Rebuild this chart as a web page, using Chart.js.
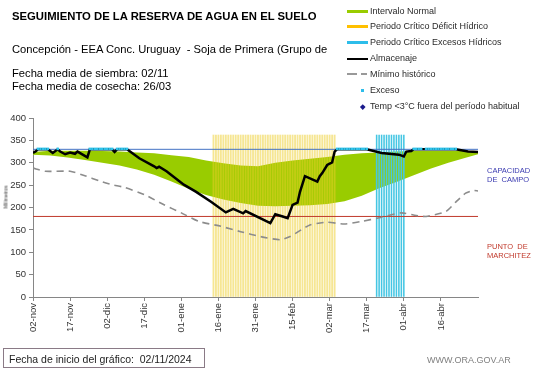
<!DOCTYPE html>
<html><head><meta charset="utf-8">
<script src="https://cdn.jsdelivr.net/npm/chart.js@4/dist/chart.umd.min.js"></script>
<style>
body{margin:0;width:541px;height:368px;overflow:hidden;background:#fff;font-family:"Liberation Sans",Arial,sans-serif;position:relative}
canvas{position:absolute;left:0;top:0}
.t{position:absolute;white-space:pre;line-height:1;color:#000}
.lg{position:absolute;left:370px;font-size:9px;color:#2a2a2a;white-space:pre;line-height:1}
.sym{position:absolute}
</style></head><body>
<canvas id="c" width="541" height="368"></canvas>
<div class="t" style="left:12px;top:10.5px;font-size:11.3px;font-weight:bold">SEGUIMIENTO DE LA RESERVA DE AGUA EN EL SUELO</div>
<div class="t" style="left:12px;top:43.5px;font-size:11.2px">Concepción - EEA Conc. Uruguay  - Soja de Primera (Grupo de</div>
<div class="t" style="left:12px;top:67.5px;font-size:11.2px">Fecha media de siembra: 02/11</div>
<div class="t" style="left:12px;top:81px;font-size:11.2px">Fecha media de cosecha: 26/03</div>

<div class="sym" style="left:347px;top:9.5px;width:21px;height:3px;background:#99CC00"></div>
<div class="lg" style="top:6.5px">Intervalo Normal</div>
<div class="sym" style="left:347px;top:25px;width:21px;height:3px;background:#FFC000"></div>
<div class="lg" style="top:22px">Periodo Crítico Déficit Hídrico</div>
<div class="sym" style="left:347px;top:41px;width:21px;height:3px;background:#2DBDEA"></div>
<div class="lg" style="top:38px">Periodo Crítico Excesos Hídricos</div>
<div class="sym" style="left:347px;top:57.5px;width:21px;height:2px;background:#000"></div>
<div class="lg" style="top:54px">Almacenaje</div>
<div class="sym" style="left:347px;top:73px;width:10px;height:2px;background:#999"></div>
<div class="sym" style="left:361px;top:73px;width:6px;height:2px;background:#999"></div>
<div class="lg" style="top:69.5px">Mínimo histórico</div>
<div class="sym" style="left:361px;top:89px;width:2.5px;height:2.5px;background:#2DBDEA"></div>
<div class="lg" style="top:85.5px">Exceso</div>
<div class="sym" style="left:360.5px;top:104.5px;width:3.5px;height:3.5px;background:#1a1a8c;transform:rotate(45deg)"></div>
<div class="lg" style="top:101.5px">Temp &lt;3°C fuera del período habitual</div>

<div class="t" style="left:487px;top:167px;font-size:7.5px;color:#3a3ab0">CAPACIDAD</div>
<div class="t" style="left:487px;top:175.5px;font-size:7.5px;color:#3a3ab0">DE  CAMPO</div>
<div class="t" style="left:487px;top:243px;font-size:7.5px;color:#c0392b">PUNTO  DE</div>
<div class="t" style="left:487px;top:251.5px;font-size:7.5px;color:#c0392b">MARCHITEZ</div>

<div class="t" style="left:6px;top:197px;font-size:5px;color:#333;transform:translate(-50%,-50%) rotate(-90deg);transform-origin:center">Milímetros</div>

<div style="position:absolute;left:3px;top:348px;width:200px;height:18px;border:1px solid #8a7a86"></div>
<div class="t" style="left:9px;top:353.5px;font-size:10.5px;color:#222">Fecha de inicio del gráfico:  02/11/2024</div>
<div class="t" style="left:427px;top:356px;font-size:9px;color:#808080">WWW.ORA.GOV.AR</div>

<script>
// ---- data ----
const xTickDays = [0,15,30,45,60,75,90,105,120,135,150,165];
const xTickLabels = ['02-nov','17-nov','02-dic','17-dic','01-ene','16-ene','31-ene','15-feb','02-mar','17-mar','01-abr','16-abr'];

const bandDays    = [0,7,14,21,28,35,42,49,56,63,70,77,84,91,98,105,112,119,126,133,140,147,154,161,168,175,180];
const normalUpper = [324,327,327,327,326,325,323,321,317,313,305,299,294,292,300,305,309,313,318,321,323,325,326,326,326,326,325];
const normalLower = [318,316,312,306,300,294,285,273,258,242,228,218,210,204,203,204,205,208,214,226,243,257,272,287,300,311,319];

const minDays   = [0,5,15,21,27,32,37,45,53,60,67,76,84,92,100,104,112,119,126,133,140,149,155,159,167,171,175,178,180];
const minValues = [288,281,281,271,259,251,245,229,206,188,169,158,146,135,128,135,161,167,163,169,177,188,182,180,191,212,232,238,237];

const almDays   = [0,1,2,6,8,10,11,13,15,17,18,22,23,32,33,34,38,43,49,50,51,54,61,66,72,78,81,85,86,96,98,101,103,105,107,108,110,115,116,117,119,121,122,123,135,141,148,150,151,153,154,171,176,180];
const almValues = [322,325,330,330,322,330,325,319,323,320,325,312,330,330,324,330,330,310,292,288,291,281,251,235,213,189,197,187,192,165,185,180,176,206,211,235,270,258,270,277,295,301,325,330,330,322,318,314,325,326,330,330,325,324];

const excesoDays = [2,3,4,5,6,10,23,24,25,26,27,28,29,30,31,32,34,35,36,37,38,123,124,125,126,127,128,129,130,131,132,133,134,135,154,155,156,157,159,160,161,162,163,164,165,166,167,168,169,170,171];
const excesoLevel = 331;

const deficitDays = [73,74,75,76,77,78,79,80,81,82,83,84,85,86,87,88,89,90,91,92,93,94,95,96,97,98,99,100,101,102,103,104,105,106,107,108,109,110,111,112,113,114,115,116,117,118,119,120,121,122];
const excesoPeriodDays = [139,140,141,142,143,144,145,146,147,148,149,150];
const periodTop = 362;

const capacidadCampo = 330;
const puntoMarchitez = 180;
const xMin = 0, xMax = 180;

// ---- build ----
const pts = (xs, ys) => xs.map((x, i) => ({x, y: ys[i]}));
const flat = (xs, v) => xs.map(x => ({x, y: v}));
const FONT = '"Liberation Sans", Arial, sans-serif';

new Chart(document.getElementById('c'), {
  type: 'line',
  data: {
    datasets: [
      {label:'lower', data: pts(bandDays, normalLower), borderWidth:0, borderColor:'rgba(0,0,0,0)', pointRadius:0, fill:false, order:11},
      {label:'Intervalo Normal', data: pts(bandDays, normalUpper), borderWidth:0, borderColor:'rgba(0,0,0,0)', backgroundColor:'#99CC00', pointRadius:0, fill:'-1', order:10},
      {type:'bar', label:'Déficit', data: flat(deficitDays, periodTop), backgroundColor:'rgba(238,205,40,0.5)', barThickness:1.2, grouped:false, order:8},
      {type:'bar', label:'Excesos', data: flat(excesoPeriodDays, periodTop), backgroundColor:'#45C6E3', barThickness:0.9, grouped:false, order:7},
      {label:'CC', data: flat([xMin, xMax], capacidadCampo), borderColor:'#4472C4', borderWidth:1, pointRadius:0, fill:false, order:6},
      {label:'PM', data: flat([xMin, xMax], puntoMarchitez), borderColor:'#C0392B', borderWidth:1, pointRadius:0, fill:false, order:6},
      {label:'Mínimo histórico', data: pts(minDays, minValues), borderColor:'#8c8c8c', borderWidth:1.6, borderDash:[7,5], pointRadius:0, fill:false, tension:0.2, order:5},
      {label:'Almacenaje', data: pts(almDays, almValues), borderColor:'#000', borderWidth:2.5, pointRadius:0, fill:false, order:2},
      {label:'Exceso', data: flat(excesoDays, excesoLevel), showLine:false, pointStyle:'rect', pointRadius:1.8, pointBackgroundColor:'#2FC3EB', pointBorderWidth:0, borderColor:'#2FC3EB', order:1}
    ]
  },
  options: {
    responsive:false, animation:false, devicePixelRatio:1,
    layout:{padding:{top:118, right:63, bottom:0, left:0}},
    plugins:{legend:{display:false}, tooltip:{enabled:false}},
    scales:{
      x:{type:'linear', min:xMin, max:xMax, offset:false,
        border:{color:'#868686', width:1},
        grid:{drawOnChartArea:false, drawTicks:true, tickLength:4, color:'#868686', offset:false},
        ticks:{autoSkip:false, minRotation:90, maxRotation:90, padding:2, color:'#333', font:{size:9.5, family:FONT},
          callback:(v, i) => xTickLabels[i]},
        afterBuildTicks: s => { s.ticks = xTickDays.map(v => ({value:v})); },
        afterFit: s => { s.height = 71; }
      },
      y:{min:0, max:400,
        border:{color:'#868686', width:1},
        grid:{drawOnChartArea:false, drawTicks:true, tickLength:4, color:'#868686'},
        ticks:{stepSize:50, padding:3, color:'#333', font:{size:9.5, family:FONT}},
        afterFit: s => { s.width = 33; }
      }
    }
  }
});
</script>
</body></html>
